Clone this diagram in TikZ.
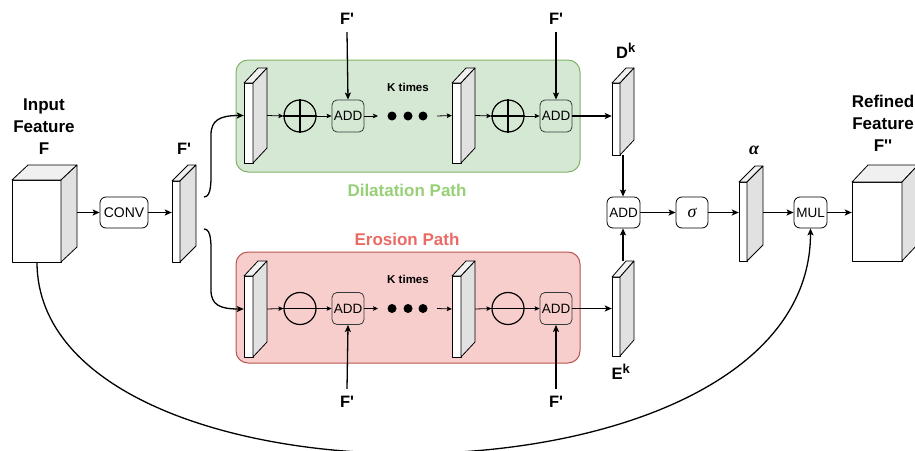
\documentclass[tikz,border=0pt]{standalone}
\usepackage{fontspec}
\setmainfont{Liberation Sans}
\newfontfamily\grk{Liberation Serif}
\usetikzlibrary{arrows.meta,fit}
\definecolor{gfill}{HTML}{D5E8D4}
\definecolor{gline}{HTML}{82B366}
\definecolor{gtext}{HTML}{97D077}
\definecolor{rfill}{HTML}{F8CECC}
\definecolor{rline}{HTML}{B85450}
\definecolor{rtext}{HTML}{EA6B66}
\definecolor{topc}{HTML}{F0F0F0}
\definecolor{sidec}{HTML}{E1E1E1}
\definecolor{boxline}{HTML}{36393D}
\newcommand\mkplate[7]{%
  \draw[platel, fill=white] (#2,#3) rectangle ({#2+#4},{#3+#5});
  \draw[platel, fill=topc] (#2,#3) -- ++(#6,-#7) -- ++(#4,0) -- ({#2+#4},#3) -- cycle;
  \draw[platel, fill=sidec] ({#2+#4},#3) -- ++(#6,-#7) -- ++(0,#5) -- ({#2+#4},{#3+#5}) -- cycle;
  \path ({#2},{#3-#7}) coordinate (#1nw) ({#2+#4+#6},{#3+#5}) coordinate (#1se);
  \node[inner sep=0pt, fit=(#1nw)(#1se)] (#1) {};
}
\newcommand\pr{\textquotesingle}
\begin{document}
\begin{tikzpicture}[x=1pt,y=-1pt,
  platel/.style={draw=black, line width=0.8pt, line join=round},
  arr/.style={-{Stealth[length=7pt,width=6pt,inset=1.5pt]}, line width=1.3pt},
  sarr/.style={-{Stealth[length=5pt,width=4.5pt,inset=1pt]}, line width=0.8pt},
  opbox/.style={draw=boxline, line width=0.8pt, rounded corners=5pt, minimum width=32pt, minimum height=32pt, inner sep=0pt, font=\fontsize{13.5}{14}\selectfont},
  wbox/.style={draw=black, fill=white, line width=0.8pt, rounded corners=6pt, minimum height=31pt, inner sep=0pt, font=\fontsize{14}{15}\selectfont},
  opc/.style={circle, draw=black, line width=1.2pt, minimum size=32pt, inner sep=0pt},
  dot/.style={circle, fill=black, minimum size=9pt, inner sep=0pt},
  lbl/.style={font=\bfseries\fontsize{17}{22}\selectfont, align=center},
  flbl/.style={font=\bfseries\fontsize{16.5}{18}\selectfont},
  ktimes/.style={font=\bfseries\fontsize{11.5}{13}\selectfont}]
\useasboundingbox (0,0) rectangle (915,450);

% path boxes
\draw[draw=gline, fill=gfill, line width=1pt, rounded corners=12pt] (236,60) rectangle (580,172);
\draw[draw=rline, fill=rfill, line width=1pt, rounded corners=12pt] (236,252) rectangle (580,363);
\node[font=\bfseries\fontsize{17}{18}\selectfont, text=gtext] (dlab) at (407,190) {Dilatation Path};
\node[font=\bfseries\fontsize{17}{18}\selectfont, text=rtext] (elab) at (407,239) {Erosion Path};

% input cube and label
\mkplate{incube}{12}{180}{49}{82}{16}{15}
\node[lbl] (inlab) at (44,127) {Input\\Feature\\F};

% conv
\node[wbox, minimum width=48pt] (conv) at (124,212.5) {CONV};
\mkplate{fp}{172}{181}{8}{81}{16}{16}
\node[flbl] (fplab) at (184,149) {F\pr};

% green row
\mkplate{gp1}{244}{83}{9}{80}{14}{15}
\node[opc] (go1) at (300,116) {};
\draw[line width=1.2pt] (go1.north) -- (go1.south) (go1.west) -- (go1.east);
\node[opbox] (ga1) at (348,116) {ADD};
\node[dot] (gd1) at (392,116) {};
\node[dot] (gd2) at (408,116) {};
\node[dot] (gd3) at (423,116) {};
\coordinate (gdl) at (378,116);
\coordinate (gdr) at (437,116);
\mkplate{gp2}{452}{83}{9}{80}{14}{15}
\node[opc] (go2) at (508,116) {};
\draw[line width=1.2pt] (go2.north) -- (go2.south) (go2.west) -- (go2.east);
\node[opbox] (ga2) at (556,116) {ADD};
\node[ktimes] (gk) at (408,87) {K times};

% red row
\mkplate{rp1}{244}{276}{9}{81}{14}{15}
\node[opc] (ro1) at (300,308.5) {};
\draw[line width=1.2pt] (ro1.west) -- (ro1.east);
\node[opbox] (ra1) at (348,308.5) {ADD};
\node[dot] (rd1) at (392,308.5) {};
\node[dot] (rd2) at (408,308.5) {};
\node[dot] (rd3) at (423,308.5) {};
\coordinate (rdl) at (378,308.5);
\coordinate (rdr) at (437,308.5);
\mkplate{rp2}{452}{276}{9}{81}{14}{15}
\node[opc] (ro2) at (508,308.5) {};
\draw[line width=1.2pt] (ro2.west) -- (ro2.east);
\node[opbox] (ra2) at (556,308.5) {ADD};
\node[ktimes] (rk) at (408,279) {K times};

% F' inputs
\node[flbl] (ft1) at (347,19) {F\pr};
\node[flbl] (ft2) at (556,19) {F\pr};
\node[flbl] (fb1) at (347,402) {F\pr};
\node[flbl] (fb2) at (556,402) {F\pr};
\draw[arr] (ft1.south) ++(0,4) -- (ga1.north);
\draw[arr] (ft2.south) ++(0,4) -- (ga2.north);
\draw[arr] (fb1.north) ++(0,-4) -- (ra1.south);
\draw[arr] (fb2.north) ++(0,-4) -- (ra2.south);

% Dk, Ek
\mkplate{dk}{612}{83}{8}{72}{14}{15}
\node[flbl] (dklab) at (626,51) {D\textsuperscript{\fontsize{13}{14}\selectfont k}};
\mkplate{ek}{612}{277}{8}{79}{14}{16}
\node[flbl] (eklab) at (621,372) {E\textsuperscript{\fontsize{13}{14}\selectfont k}};

% merge
\node[wbox, minimum width=33pt, font=\fontsize{13.5}{14}\selectfont] (ma) at (623.5,212.5) {ADD};
\node[wbox, minimum width=32pt, minimum height=31pt, font=\grk\itshape\fontsize{18}{20}\selectfont] (sig) at (692,212.5) {σ};
\mkplate{al}{739}{182}{8}{79}{16}{16}
\node[font=\grk\bfseries\itshape\fontsize{18}{20}\selectfont] (allab) at (754,150) {α};
\node[wbox, minimum width=33pt, font=\fontsize{13.5}{14}\selectfont] (mul) at (810.5,212.5) {MUL};
\mkplate{outc}{852}{182}{50}{79}{16}{17}
\node[lbl] (outlab) at (883,123) {Refined\\Feature\\F\pr\pr};

% connectors
\draw[arr] (incube.east |- conv.west) -- (conv.west);
\draw[arr] (conv.east) -- (fp.west |- conv.east);
\coordinate (fpu) at (204,197);
\coordinate (fpd) at (204,229);
\draw[arr] (fpu) .. controls (212,197) and (211,180) .. (211,165) -- (211,135) .. controls (211,120) and (220,115.5) .. (gp1.west);
\draw[arr] (fpd) .. controls (212,229) and (211,245) .. (211,260) -- (211,290) .. controls (211,305) and (220,309) .. (rp1.west);

\draw[sarr] (gp1.east) -- (go1.west);
\draw[sarr] (go1.east) -- (ga1.west);
\draw[sarr] (ga1.east) -- (gdl);
\draw[sarr] (gdr) -- (gp2.west);
\draw[sarr] (gp2.east) -- (go2.west);
\draw[sarr] (go2.east) -- (ga2.west);
\draw[arr] (ga2.east) -- (ga2.east -| dk.west);

\draw[sarr] (rp1.east) -- (ro1.west);
\draw[sarr] (ro1.east) -- (ra1.west);
\draw[sarr] (ra1.east) -- (rdl);
\draw[sarr] (rdr) -- (rp2.west);
\draw[sarr] (rp2.east) -- (ro2.west);
\draw[sarr] (ro2.east) -- (ra2.west);
\draw[arr] (ra2.east) -- (ra2.east -| ek.west);

\draw[arr] (dk.south) -- (dk.south |- ma.north);
\draw[arr] (ek.north) -- (ek.north |- ma.south);
\draw[arr] (ma.east) -- (sig.west);
\draw[arr] (sig.east) -- (sig.east -| al.west);
\draw[arr] (al.east |- mul.west) -- (mul.west);
\draw[arr] (mul.east) -- (mul.east -| outc.west);

\coordinate (skip) at (37,262);
\draw[arr] (skip) .. controls (37,522) and (810.5,522) .. (mul.south);
\end{tikzpicture}
\end{document}
